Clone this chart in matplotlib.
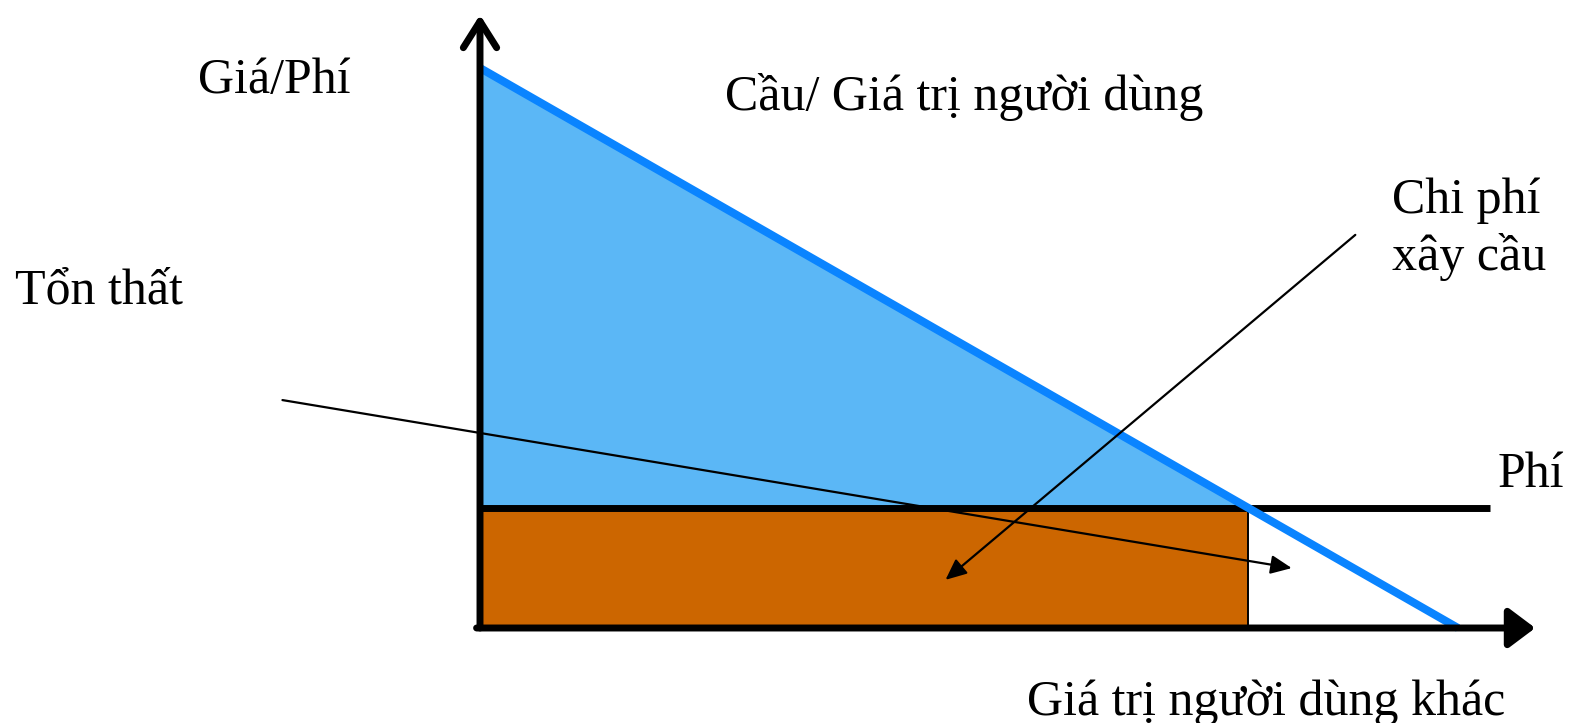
import matplotlib.pyplot as plt
from matplotlib.patches import Polygon, Rectangle

plt.rcParams['font.family'] = ['Liberation Serif', 'DejaVu Serif']

# du lieu (don vi tuy y: luong / gia)
p_max = 10.0          # gia chan tren cua cau
q_max = 10.0          # luong khi gia = 0
phi = 2.15            # muc phi
q_phi = q_max * (1 - phi / p_max)   # luong tai muc phi

# mui ten chu thich
ton_that_tu = (-2.02, 4.07)
ton_that_den = (8.30, 1.07)
chi_phi_tu = (8.95, 7.02)
chi_phi_den = (4.76, 0.86)

fig = plt.figure(figsize=(15.69, 7.23), dpi=100)
ax = fig.add_axes([480 / 1569, 95 / 723, 978 / 1569, 560 / 723])
ax.set_xlim(0, q_max)
ax.set_ylim(0, p_max)
ax.axis('off')

# vung thang du (xanh) va chi phi xay cau (cam)
ax.add_patch(Polygon([(0, p_max), (q_phi, phi), (0, phi)], closed=True,
                     facecolor='#5BB7F6', edgecolor='none', zorder=1))
ax.add_patch(Rectangle((0, 0), q_phi, phi, facecolor='#CC6600',
                       edgecolor='black', linewidth=1.4, zorder=2))

# duong cau
ax.plot([0, q_max], [p_max, 0], color='#0A84FF', linewidth=5.8,
        solid_capstyle='butt', zorder=4, clip_on=False)

# duong phi
ax.plot([0, 10.33], [phi, phi], color='black', linewidth=5,
        solid_capstyle='butt', zorder=3, clip_on=False)

# truc
ax.annotate('', xy=(0, 10.95), xytext=(0, 0),
            arrowprops=dict(arrowstyle='->,head_length=0.95,head_width=0.6',
                            linewidth=5, color='black', capstyle='round',
                            mutation_scale=20, shrinkA=0, shrinkB=0),
            zorder=5, annotation_clip=False)
ax.annotate('', xy=(10.79, 0), xytext=(-0.035, 0),
            arrowprops=dict(arrowstyle='-|>,head_length=0.8,head_width=0.6',
                            linewidth=5, color='black', mutation_scale=20,
                            shrinkA=0, shrinkB=0),
            zorder=5, annotation_clip=False)

# mui ten chu thich
for tu, den in [(ton_that_tu, ton_that_den), (chi_phi_tu, chi_phi_den)]:
    ax.annotate('', xy=den, xytext=tu,
                arrowprops=dict(arrowstyle='-|>,head_length=0.85,head_width=0.38',
                                linewidth=1.6, color='black', mutation_scale=15,
                                shrinkA=0, shrinkB=0),
                zorder=6, annotation_clip=False)

fs = 36
kw = dict(fontsize=fs, va='baseline', ha='left')
ax.text(-2.88, 9.55, 'Giá/Phí', **kw)
ax.text(2.51, 9.25, 'Cầu/ Giá trị người dùng', **kw)
ax.text(9.33, 7.41, 'Chi phí', **kw)
ax.text(9.33, 6.39, 'xây cầu', **kw)
ax.text(-4.75, 5.79, 'Tổn thất', **kw)
ax.text(10.40, 2.52, 'Phí', **kw)
ax.text(5.59, -1.55, 'Giá trị người dùng khác', **kw)

fig.savefig('out.png', dpi=100)
